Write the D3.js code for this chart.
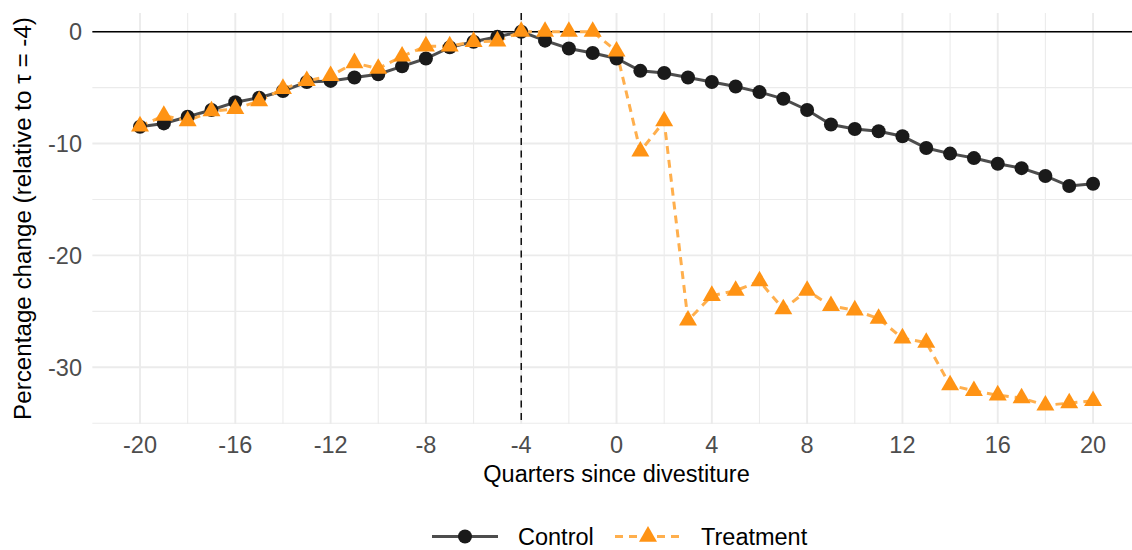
<!DOCTYPE html>
<html lang="en">
<head>
  <meta charset="UTF-8">
  <title>Percentage change relative to tau = -4</title>
  <script src="https://d3js.org/d3.v7.min.js"></script>
  <style>
    body { margin: 0; background: #fff; }
    svg { font-family: "Liberation Sans", Arial, sans-serif; display: block; }
  </style>
</head>
<body>
  <svg width="1132" height="550"></svg>

  <script>
    // quarters since divestiture
    const quarters = [-20, -19, -18, -17, -16, -15, -14, -13, -12, -11, -10, -9, -8, -7, -6, -5, -4,
                      -3, -2, -1, 0, 1, 2, 3, 4, 5, 6, 7, 8, 9, 10, 11, 12, 13, 14, 15, 16, 17, 18, 19, 20];

    const control = [-8.5, -8.2, -7.6, -7.0, -6.3, -5.9, -5.3, -4.5, -4.4, -4.1, -3.8, -3.1, -2.4, -1.4, -0.9, -0.45, 0,
                     -0.8, -1.5, -1.9, -2.4, -3.5, -3.7, -4.1, -4.5, -4.9, -5.4, -6.0, -7.0, -8.3, -8.7, -8.9,
                     -9.35, -10.4, -10.9, -11.3, -11.8, -12.2, -12.9, -13.8, -13.6];

    const treatment = [-8.45, -7.5, -7.98, -7.1, -6.9, -6.2, -5.1, -4.4, -3.95, -2.8, -3.3, -2.2, -1.3, -1.3, -0.9, -0.85, 0,
                       0, 0, 0, -1.75, -10.7, -8.0, -25.8, -23.6, -23.15, -22.3, -24.8, -23.15, -24.5, -24.9, -25.65,
                       -27.4, -27.8, -31.6, -32.1, -32.5, -32.75, -33.4, -33.2, -33.0];

    const xTicks = [-20, -16, -12, -8, -4, 0, 4, 8, 12, 16, 20];
    const xMinor = [-18, -14, -10, -6, -2, 2, 6, 10, 14, 18];
    const yTicks = [0, -10, -20, -30];
    const yMinor = [-5, -15, -25, -35];
    const eventQuarter = -4;

    const seriesNames = ["Control", "Treatment"];

    const svg = d3.select("svg");
    const panel = {left: 92.35, right: 1140.7, top: 13, bottom: 424};

    const x = d3.scaleLinear().domain([-22, 22]).range([panel.left, panel.right]);
    const y = d3.scaleLinear().domain([-35.07, 1.67]).range([panel.bottom, panel.top]);

    const grid = svg.append("g");
    grid.selectAll(".vminor").data(xMinor).join("line")
      .attr("x1", d => x(d)).attr("x2", d => x(d))
      .attr("y1", panel.top).attr("y2", panel.bottom)
      .attr("stroke", "#ebebeb").attr("stroke-width", 1.1);
    grid.selectAll(".hminor").data(yMinor).join("line")
      .attr("y1", d => y(d)).attr("y2", d => y(d))
      .attr("x1", panel.left).attr("x2", panel.right)
      .attr("stroke", "#ebebeb").attr("stroke-width", 1.1);
    grid.selectAll(".vmajor").data(xTicks).join("line")
      .attr("x1", d => x(d)).attr("x2", d => x(d))
      .attr("y1", panel.top).attr("y2", panel.bottom)
      .attr("stroke", "#ebebeb").attr("stroke-width", 1.9);
    grid.selectAll(".hmajor").data(yTicks).join("line")
      .attr("y1", d => y(d)).attr("y2", d => y(d))
      .attr("x1", panel.left).attr("x2", panel.right)
      .attr("stroke", "#ebebeb").attr("stroke-width", 1.9);

    // reference lines
    svg.append("line")
      .attr("x1", panel.left).attr("x2", panel.right)
      .attr("y1", y(0)).attr("y2", y(0))
      .attr("stroke", "#000").attr("stroke-width", 1.6);
    svg.append("line")
      .attr("x1", x(eventQuarter)).attr("x2", x(eventQuarter))
      .attr("y1", panel.top).attr("y2", panel.bottom)
      .attr("stroke", "#000").attr("stroke-width", 1.4)
      .attr("stroke-dasharray", "7,5.5");

    const ctrlData = quarters.map((q, i) => ({q: q, v: control[i]}));
    const trtData = quarters.map((q, i) => ({q: q, v: treatment[i]}));

    const line = d3.line().x(d => x(d.q)).y(d => y(d.v));

    const ctrlStyle = {stroke: "#4d4d4d", width: 3, dash: null, fill: "#1a1a1a"};
    const trtStyle = {stroke: "#ffaf4d", width: 3, dash: "8,6", fill: "#ff9314"};

    svg.append("path").datum(ctrlData)
      .attr("d", line).attr("fill", "none")
      .attr("stroke", ctrlStyle.stroke).attr("stroke-width", ctrlStyle.width);
    svg.append("path").datum(trtData)
      .attr("d", line).attr("fill", "none")
      .attr("stroke", trtStyle.stroke).attr("stroke-width", trtStyle.width)
      .attr("stroke-dasharray", trtStyle.dash);

    const tri = d3.symbol().type(d3.symbolTriangle).size(140);

    svg.append("g").selectAll("circle").data(ctrlData).join("circle")
      .attr("cx", d => x(d.q)).attr("cy", d => y(d.v)).attr("r", 7)
      .attr("fill", ctrlStyle.fill);
    svg.append("g").selectAll("path").data(trtData).join("path")
      .attr("d", tri)
      .attr("transform", d => `translate(${x(d.q)},${y(d.v)})`)
      .attr("fill", trtStyle.fill);

    // axis labels
    svg.append("g").selectAll("text").data(xTicks).join("text")
      .attr("x", d => x(d)).attr("y", 453)
      .attr("text-anchor", "middle")
      .attr("font-size", 23.5).attr("fill", "#4d4d4d")
      .text(d => d);
    svg.append("g").selectAll("text").data(yTicks).join("text")
      .attr("x", 82).attr("y", d => y(d))
      .attr("dy", "0.36em")
      .attr("text-anchor", "end")
      .attr("font-size", 23.5).attr("fill", "#4d4d4d")
      .text(d => d);

    svg.append("text")
      .attr("x", (panel.left + panel.right) / 2).attr("y", 482)
      .attr("text-anchor", "middle")
      .attr("font-size", 23.5).attr("fill", "#000")
      .text("Quarters since divestiture");

    svg.append("text")
      .attr("transform", `translate(31,${(panel.top + panel.bottom) / 2}) rotate(-90)`)
      .attr("text-anchor", "middle")
      .attr("font-size", 24.2).attr("fill", "#000")
      .text("Percentage change (relative to \u03c4 = -4)");

    // legend
    const legend = svg.append("g").attr("transform", "translate(432,536.5)");
    const keyW = 66;
    const items = [
      {name: seriesNames[0], style: ctrlStyle, shape: "circle", x0: 0},
      {name: seriesNames[1], style: trtStyle, shape: "triangle", x0: 183}
    ];
    items.forEach(it => {
      const g = legend.append("g").attr("transform", `translate(${it.x0},0)`);
      g.append("line")
        .attr("x1", 0).attr("x2", keyW).attr("y1", 0).attr("y2", 0)
        .attr("stroke", it.style.stroke).attr("stroke-width", it.style.width)
        .attr("stroke-dasharray", it.style.dash);
      if (it.shape === "circle") {
        g.append("circle").attr("cx", keyW / 2).attr("cy", 0).attr("r", 7).attr("fill", it.style.fill);
      } else {
        g.append("path").attr("d", tri).attr("transform", `translate(${keyW / 2},0)`).attr("fill", it.style.fill);
      }
      g.append("text")
        .attr("x", 86).attr("y", 0).attr("dy", "0.36em")
        .attr("font-size", 23.5).attr("fill", "#000")
        .text(it.name);
    });
  </script>
</body>
</html>
